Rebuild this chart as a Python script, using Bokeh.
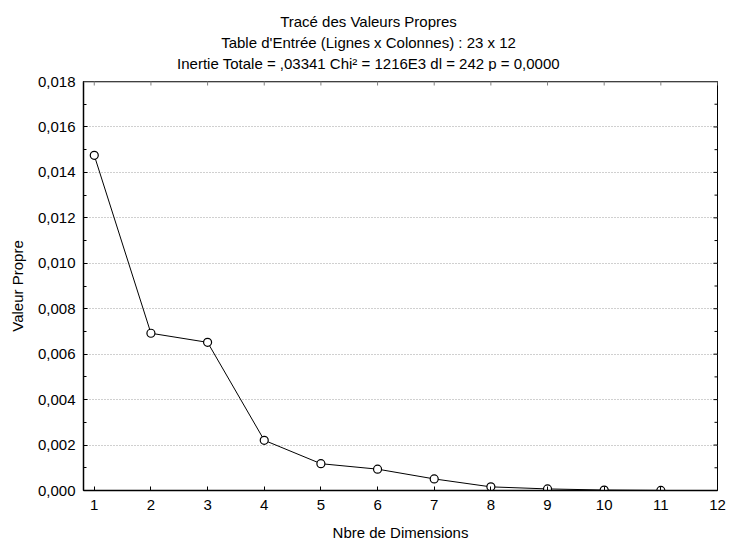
import math
from bokeh.plotting import figure
from bokeh.models import Range1d, FixedTicker, LinearAxis, Span, ColumnDataSource
from bokeh.layouts import column
from bokeh.core.properties import value
from bokeh.embed import file_html
from bokeh.resources import INLINE

# ---- data ----
dimensions = [1, 2, 3, 4, 5, 6, 7, 8, 9, 10, 11]
eigenvalues = [0.01475, 0.00692, 0.00652, 0.00221, 0.00118, 0.00094,
               0.00051, 0.00016, 0.00007, 0.00002, 0.000005]
y_ticks = [0.000, 0.002, 0.004, 0.006, 0.008, 0.010, 0.012, 0.014, 0.016, 0.018]
y_tick_labels = ["0,000", "0,002", "0,004", "0,006", "0,008",
                 "0,010", "0,012", "0,014", "0,016", "0,018"]
x_ticks = [1, 2, 3, 4, 5, 6, 7, 8, 9, 10, 11, 12]
x_tick_labels = [str(t) for t in x_ticks]
title_lines = ["Tracé des Valeurs Propres",
               "Table d'Entrée (Lignes x Colonnes) : 23 x 12",
               "Inertie Totale = ,03341 Chi² = 1216E3 dl = 242 p = 0,0000"]
x_label = "Nbre de Dimensions"
y_label = "Valeur Propre"

FONT = "Liberation Sans"
FS = "15px"
X_MIN, X_MAX = 0.81, 12
Y_MIN, Y_MAX = 0.0, 0.018
W = 729
HEAD_H = 71
MAIN_H = 472
BORDER_L, BORDER_R = 83, 12
FRAME_W = W - BORDER_L - BORDER_R

# ---- header with the three title lines (its frame is aligned with the main frame) ----
head = figure(width=W, height=HEAD_H, output_backend="svg", toolbar_location=None,
              x_range=Range1d(0, FRAME_W), y_range=Range1d(0, HEAD_H),
              min_border_left=BORDER_L, min_border_right=BORDER_R,
              min_border_top=0, min_border_bottom=0,
              x_axis_location=None, y_axis_location=None)
head.outline_line_color = None
head.grid.visible = False
title_center = 368 - BORDER_L
head_src = ColumnDataSource(dict(x=[title_center] * 3, y=[50, 29, 8], t=title_lines))
head.text(x="x", y="y", text="t", source=head_src, text_align="center",
          text_baseline="alphabetic", text_font=value(FONT),
          text_font_size=FS, text_color="black")

# ---- main plot ----
p = figure(width=W, height=MAIN_H, output_backend="svg", toolbar_location=None,
           x_range=Range1d(X_MIN, X_MAX), y_range=Range1d(Y_MIN, Y_MAX),
           min_border_left=BORDER_L, min_border_right=BORDER_R, min_border_top=10,
           min_border_bottom=53, x_axis_location=None, y_axis_location=None)
p.background_fill_color = "white"
p.border_fill_color = "white"
p.outline_line_color = "black"
p.outline_line_width = 1

minor_y = [(a + b) / 2 for a, b in zip(y_ticks[:-1], y_ticks[1:])]
yticker = FixedTicker(ticks=y_ticks, minor_ticks=minor_y)
xticker = FixedTicker(ticks=x_ticks, minor_ticks=[])


def style(ax):
    ax.major_tick_in = 4
    ax.major_tick_out = 0
    ax.minor_tick_in = 3
    ax.minor_tick_out = 0
    ax.axis_line_color = "black"
    ax.axis_line_width = 1.5
    ax.major_tick_line_color = "black"
    ax.minor_tick_line_color = "black"
    ax.major_label_text_font = FONT
    ax.major_label_text_font_size = FS
    ax.major_label_text_color = "black"
    ax.axis_label_text_font = FONT
    ax.axis_label_text_font_size = FS
    ax.axis_label_text_font_style = "normal"
    ax.axis_label_text_color = "black"


left = LinearAxis(ticker=yticker, axis_label=y_label)
left.major_label_overrides = dict(zip(y_ticks, y_tick_labels))
style(left)
left.major_label_standoff = 8
left.axis_label_standoff = 9
p.add_layout(left, "left")

bottom = LinearAxis(ticker=xticker, axis_label=x_label)
bottom.major_label_overrides = dict(zip(x_ticks, x_tick_labels))
style(bottom)
bottom.major_label_standoff = 9
bottom.axis_label_standoff = 11
p.add_layout(bottom, "below")

p.xgrid.visible = False
p.ygrid.ticker = yticker
p.ygrid.grid_line_color = "#a0a0a0"
p.ygrid.grid_line_dash = "1 2"
p.ygrid.grid_line_width = 1

# top border (grey) and inward ticks on top / right sides
p.add_layout(Span(location=Y_MAX, dimension="width", line_color="#808080", line_width=2))
p.scatter(x_ticks, [Y_MAX] * len(x_ticks), marker="dash", angle=math.pi / 2,
          size=8, line_color="#808080", line_width=1)
p.scatter([X_MAX] * len(y_ticks), y_ticks, marker="dash", size=8,
          line_color="black", line_width=1)
p.scatter([X_MAX] * len(minor_y), minor_y, marker="dash", size=6,
          line_color="black", line_width=1)

p.line(dimensions, eigenvalues, line_color="black", line_width=1)
p.scatter(dimensions, eigenvalues, marker="circle", size=8,
          fill_color="white", line_color="black", line_width=1.2)

layout = column(head, p, spacing=0)
open("out.html", "w").write(file_html(layout, INLINE))
